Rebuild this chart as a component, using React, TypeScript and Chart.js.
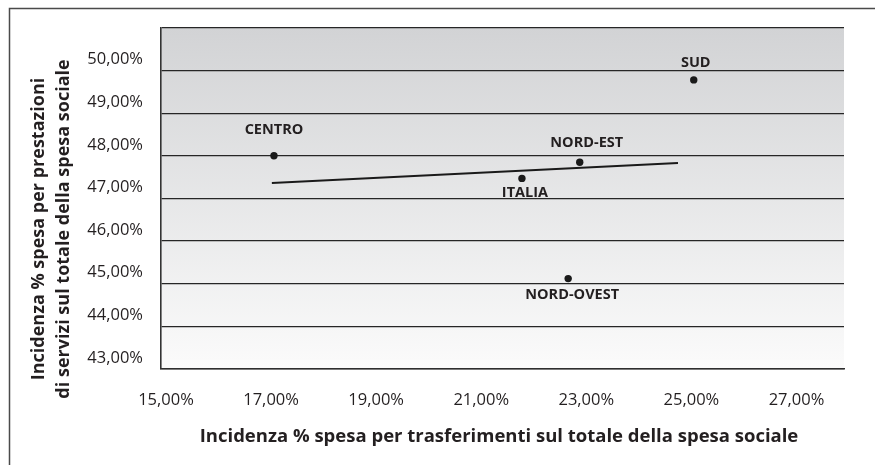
import { useEffect, useRef } from 'react';
import { Chart, registerables } from 'chart.js';

Chart.register(...registerables);

// ---- data ----
const regions = ['CENTRO', 'SUD', 'NORD-EST', 'ITALIA', 'NORD-OVEST'];
const transferShare = [17.15, 25.14, 22.97, 21.87, 22.75];
const serviceShare = [48.0, 49.78, 47.85, 47.47, 45.12];
const trendX = [17.11, 24.84];
const trendY = [47.36, 47.83];
const xTickValues = [15, 17, 19, 21, 23, 25, 27];
const yTickValues = [43, 44, 45, 46, 47, 48, 49, 50];
const xTitle = 'Incidenza % spesa per trasferimenti sul totale della spesa sociale';
const yTitle = ['Incidenza % spesa per prestazioni', 'di servizi sul totale della spesa sociale'];

// ---- style ----
const FONT = '"Open Sans", "Noto Sans", sans-serif';
const INK = '#231f20';
const labelPlacement: Record<string, { dx: number; dy: number }> = {
  CENTRO: { dx: 0, dy: -26 },
  SUD: { dx: 2, dy: -17 },
  'NORD-EST': { dx: 7, dy: -19 },
  ITALIA: { dx: 3, dy: 14 },
  'NORD-OVEST': { dx: 4, dy: 16 },
};

const fmt = (v: number) => v.toFixed(2).replace('.', ',') + '%';

const decorPlugin = {
  id: 'decor',
  beforeDraw(chart: any) {
    const { ctx, chartArea: a } = chart;
    ctx.save();
    const g = ctx.createLinearGradient(0, a.top, 0, a.bottom);
    g.addColorStop(0, '#d2d3d5');
    g.addColorStop(1, '#fbfbfb');
    ctx.fillStyle = g;
    ctx.fillRect(a.left, a.top, a.right - a.left, a.bottom - a.top);
    // outer frame (top and left)
    ctx.strokeStyle = '#4a4a4a';
    ctx.lineWidth = 1.5;
    ctx.beginPath();
    ctx.moveTo(9.5, chart.height);
    ctx.lineTo(9.5, 8.5);
    ctx.lineTo(chart.width, 8.5);
    ctx.stroke();
    ctx.restore();
  },
  afterDraw(chart: any) {
    const { ctx } = chart;
    ctx.save();
    ctx.fillStyle = INK;
    ctx.font = `bold 18.5px ${FONT}`;
    ctx.textAlign = 'center';
    ctx.textBaseline = 'middle';
    ctx.fillText(xTitle, 499, 437);
    ctx.font = `bold 18px ${FONT}`;
    const ys = [39, 64];
    yTitle.forEach((t, i) => {
      ctx.save();
      ctx.translate(ys[i], 229);
      ctx.rotate(-Math.PI / 2);
      ctx.fillText(t, 0, 0);
      ctx.restore();
    });
    // point labels
    const meta = chart.getDatasetMeta(0);
    ctx.font = `bold 14.5px ${FONT}`;
    meta.data.forEach((el: any, i: number) => {
      const p = labelPlacement[regions[i]];
      ctx.fillText(regions[i], el.x + p.dx, el.y + p.dy);
    });
    ctx.restore();
  },
};

export default function App() {
  const ref = useRef<HTMLCanvasElement>(null);
  useEffect(() => {
    document.body.style.margin = '0';
    const chart = new Chart(ref.current as HTMLCanvasElement, {
      type: 'scatter',
      data: {
        datasets: [
          {
            label: 'Regioni',
            data: regions.map((_, i) => ({ x: transferShare[i], y: serviceShare[i] })),
            pointRadius: 3.7,
            pointBackgroundColor: '#1a1a1a',
            pointBorderWidth: 0,
            showLine: false,
          },
          {
            label: 'Tendenza',
            type: 'line',
            data: trendX.map((x, i) => ({ x, y: trendY[i] })),
            borderColor: '#1a1a1a',
            borderWidth: 2,
            pointRadius: 0,
            showLine: true,
            fill: false,
          } as any,
        ],
      },
      options: {
        animation: false,
        responsive: false,
        devicePixelRatio: 1,
        layout: { padding: { left: 0, top: 27, right: 31, bottom: 0 } },
        plugins: { legend: { display: false }, tooltip: { enabled: false } },
        scales: {
          x: {
            type: 'linear',
            min: 15,
            max: 28,
            afterBuildTicks: (s: any) => {
              s.ticks = xTickValues.map((v) => ({ value: v }));
            },
            afterFit: (s: any) => {
              s.height = 96;
            },
            grid: { display: false, drawTicks: false, tickLength: 0 },
            border: { display: true, color: '#2e2e2e', width: 1.6 },
            ticks: {
              callback: (v: any) => fmt(Number(v)),
              font: { family: FONT, size: 16.5 },
              color: INK,
              padding: 21,
              labelOffset: 5,
              maxRotation: 0,
              autoSkip: false,
            },
          },
          y: {
            type: 'linear',
            min: 43,
            max: 51,
            afterBuildTicks: (s: any) => {
              s.ticks = [...yTickValues, 51].map((v) => ({ value: v }));
            },
            afterFit: (s: any) => {
              s.width = 161;
            },
            grid: { color: '#262626', lineWidth: 1.3, drawTicks: false, tickLength: 0 },
            border: { display: true, color: '#333', width: 1.6 },
            ticks: {
              callback: (v: any) => (Number(v) > 50 ? '' : fmt(Number(v))),
              font: { family: FONT, size: 16.5 },
              color: INK,
              padding: 18,
              labelOffset: -11,
              autoSkip: false,
            },
          },
        },
      },
      plugins: [decorPlugin],
    });
    return () => chart.destroy();
  }, []);
  return (
    <div style={{ position: 'fixed', left: 0, top: 0, width: 875, height: 465, background: '#fff' }}>
      <canvas ref={ref} width={875} height={465} style={{ display: 'block', width: 875, height: 465 }} />
    </div>
  );
}
